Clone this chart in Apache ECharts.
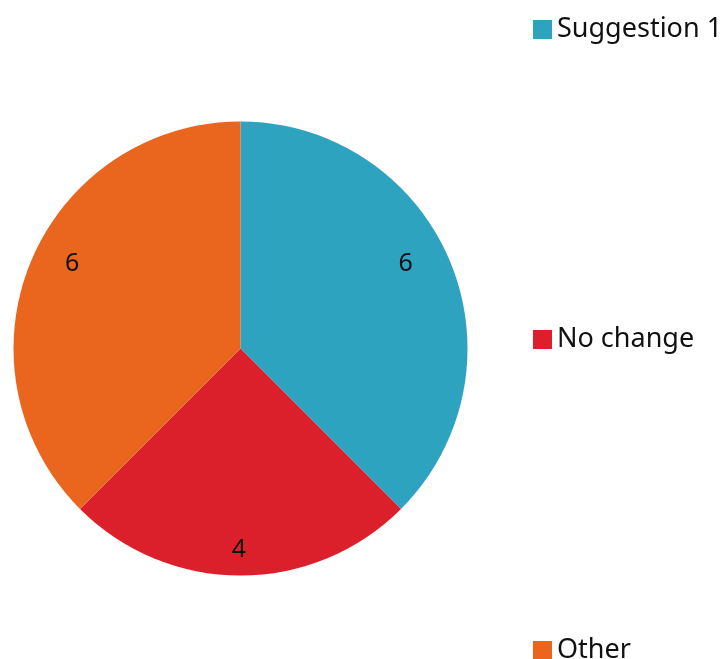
<!DOCTYPE html>
<html>
<head>
<meta charset="utf-8">
<script src="https://cdn.jsdelivr.net/npm/echarts@6/dist/echarts.min.js"></script>
<style>html,body{margin:0;padding:0;background:#fff}#c{width:726px;height:659px}</style>
</head>
<body>
<div id="c"></div>
<script>
var categories = ['Suggestion 1', 'No change', 'Other'];
var values = [6, 4, 6];
var colors = ['#2ea3c0', '#dc202b', '#ea651e'];
var labelPads = [[0, 52, 0, 0], [0, 3, 0, 0], [0, 0, 0, 46]];
var legendTops = [16, 326, 637];

var FONT = 'Noto Sans';
var chart = echarts.init(document.getElementById('c'), null, {renderer: 'canvas'});
var pieData = categories.map(function (c, i) {
  return {name: c, value: values[i], itemStyle: {color: colors[i]}};
});
var labelData = categories.map(function (c, i) {
  return {name: c, value: values[i], label: {padding: labelPads[i]}};
});
var legends = categories.map(function (c, i) {
  return {
    orient: 'vertical',
    left: 533,
    top: legendTops[i],
    padding: 0,
    itemWidth: 19,
    itemHeight: 19,
    icon: 'rect',
    data: [c],
    textStyle: {fontFamily: FONT, fontSize: 27, lineHeight: 19, color: '#111'}
  };
});
chart.setOption({
  animation: false,
  color: colors,
  legend: legends,
  series: [
    {
      type: 'pie',
      center: [240.5, 348.5],
      radius: [0, 227],
      startAngle: 90,
      clockwise: true,
      data: pieData,
      label: {show: false},
      labelLine: {show: false},
      itemStyle: {borderWidth: 0},
      emphasis: {disabled: true}
    },
    {
      type: 'pie',
      center: [240.5, 343],
      radius: [181, 227],
      startAngle: 90,
      clockwise: true,
      silent: true,
      legendHoverLink: false,
      data: labelData,
      itemStyle: {color: 'rgba(0,0,0,0)', borderWidth: 0},
      label: {
        show: true,
        position: 'inside',
        formatter: '{c}',
        fontFamily: FONT,
        fontSize: 25,
        color: '#111'
      },
      labelLine: {show: false},
      emphasis: {disabled: true}
    }
  ]
});
</script>
</body>
</html>
